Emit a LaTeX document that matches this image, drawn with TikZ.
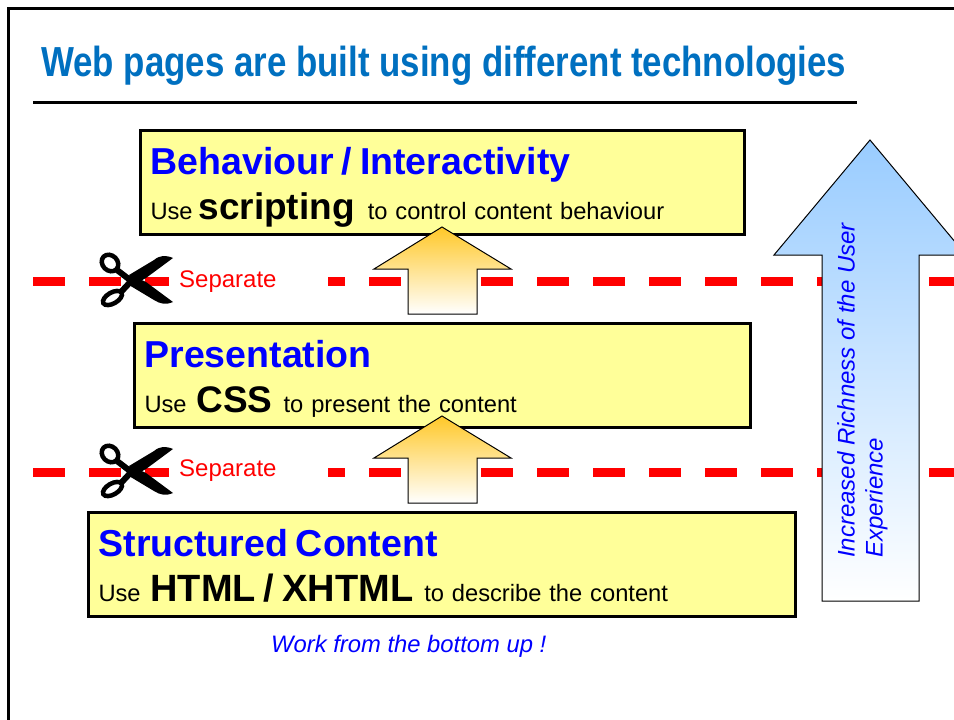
\documentclass[tikz,border=0pt]{standalone}
\usepackage{fontspec}
\usepackage{xcolor}
\setmainfont{Liberation Sans}
\definecolor{titleblue}{RGB}{0,112,192}
\definecolor{textblue}{RGB}{0,0,255}
\definecolor{boxyellow}{RGB}{255,255,153}
\definecolor{cutred}{RGB}{255,0,0}
\definecolor{arrowgold}{RGB}{255,200,40}
\definecolor{arrowsky}{RGB}{153,204,255}
\newcommand{\bigword}[2][38]{{\fontsize{#1}{38}\selectfont\bfseries #2}}
\newcommand{\layername}[1]{\rule[-8.5pt]{0pt}{45pt}{\fontsize{37.5}{37.5}\selectfont\bfseries\color{textblue}#1}}
\newcommand{\layeruse}{\rule[-8.5pt]{0pt}{45pt}}

\begin{document}
\begin{tikzpicture}[
    x=1pt, y=-1pt,
    layerbox/.style={rectangle, draw=black, line width=3pt, fill=boxyellow, anchor=north west, align=left, inner xsep=10pt, inner ysep=0pt, minimum height=104pt, font=\fontsize{23.7}{45}\selectfont},
    cutline/.style={cutred, line width=9pt, dash pattern=on 32pt off 24pt},
    separatelabel/.style={rectangle, fill=white, text=cutred, anchor=west, minimum width=159pt, minimum height=30pt, align=left, inner xsep=10pt, inner ysep=0pt, text width=139pt, font=\fontsize{24}{24}\selectfont},
    goldarrow/.style={draw=black, line width=1pt, top color=arrowgold, bottom color=white},
    skyarrow/.style={draw=black, line width=1pt, top color=arrowsky, bottom color=white},
    scissorsicon/.pic={
        \fill[black] (43,-22) .. controls (36,-25) and (30,-25) .. (24,-20) -- (-1,-5) -- (5,4) -- (16,-2) -- cycle;
        \fill[black] (43,22) .. controls (36,25) and (30,24) .. (24,20) -- (-1,5) -- (1,-5) -- (16,2) -- cycle;
        \draw[black, line width=4.5pt, shift={(-20,-17)}, rotate=-45] (0,0) ellipse (9pt and 7.5pt);
        \draw[black, line width=4.5pt, shift={(-17.5,18)}, rotate=30] (0,0) ellipse (10.5pt and 5.5pt);
        \draw[black, line width=6pt] (-13,-10) -- (4,3);
        \draw[black, line width=6pt] (-9,12) -- (4,-2);
    }
]
    \clip (0,0) rectangle (954,720);
    \fill[white] (0,0) rectangle (954,720);

    % frame and heading
    \draw[black, line width=3pt] (8,724) -- (8,8) -- (958,8);
    \node[anchor=base west, inner sep=0pt, xscale=0.83, text=titleblue, font=\fontsize{42}{42}\selectfont\bfseries] (heading) at (41,76) {Web pages are built using different technologies};
    \draw[black, line width=3pt] (33,102) -- (857,102);

    % cut lines
    \coordinate (cutAstart) at (33,281);
    \coordinate (cutAend) at (954,281);
    \coordinate (cutBstart) at (33,472);
    \coordinate (cutBend) at (954,472);
    \draw[cutline] (cutAstart) -- (cutAend);
    \draw[cutline] (cutBstart) -- (cutBend);
    \node[separatelabel] (separateA) at (169,282) {Separate};
    \node[separatelabel] (separateB) at (169,471) {Separate};
    \pic at (130,280) {scissorsicon};
    \pic at (130,471) {scissorsicon};

    % layers
    \node[layerbox, text width=584pt] (behaviour) at (139,129) {\layername{Behaviour / Interactivity}\\\layeruse Use\hspace{-2pt} \bigword[37]{scripting}\hspace{13pt}to control content behaviour};
    \node[layerbox, text width=596pt] (presentation) at (133,322) {\layername{Presentation}\\\layeruse Use\hspace{2pt} \bigword[37]{CSS}\hspace{11pt}to present the content};
    \node[layerbox, text width=687pt] (content) at (87,511) {\layername{Structured Content}\\\layeruse Use\hspace{2pt} \bigword{HTML / XHTML}\hspace{11pt}to describe the content};

    % block arrows
    \draw[goldarrow] (442,227) -- (511,269) -- (477,269) -- (477,314) -- (408,314) -- (408,269) -- (374,269) -- cycle;
    \draw[goldarrow] (442,416) -- (511,458) -- (477,458) -- (477,503) -- (408,503) -- (408,458) -- (374,458) -- cycle;
    \draw[skyarrow] (870,140) -- (966,255) -- (919,255) -- (919,601) -- (822,601) -- (822,255) -- (774,255) -- cycle;

    \node[rotate=90, anchor=north west, align=left, inner sep=0pt, text=textblue, font=\fontsize{24}{28}\selectfont\itshape] (richness) at (837,558) {Increased Richness of the User\\Experience};
    \node[anchor=base west, inner sep=0pt, text=textblue, font=\fontsize{23.8}{24}\selectfont\itshape] (bottomup) at (271,652) {Work from the bottom up !};
\end{tikzpicture}
\end{document}
